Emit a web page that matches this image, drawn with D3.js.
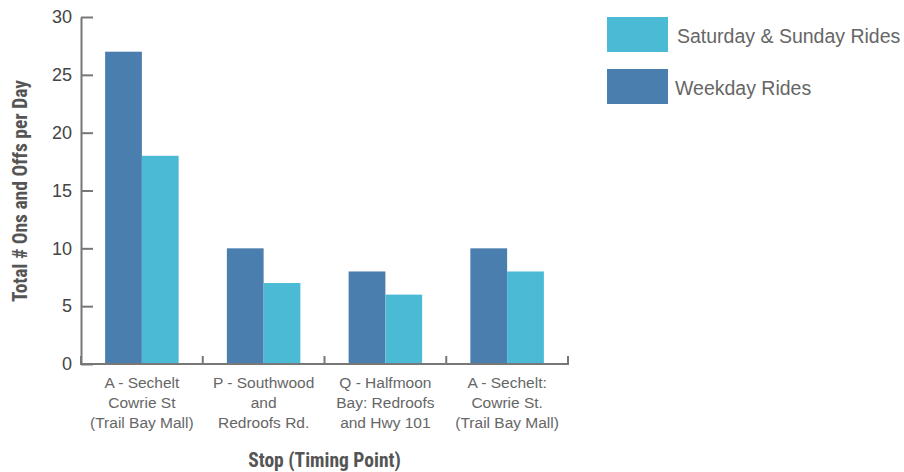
<!DOCTYPE html>
<html>
<head>
<meta charset="utf-8">
<script src="https://cdn.jsdelivr.net/npm/d3@7/dist/d3.min.js"></script>
<style>
  html, body { margin: 0; padding: 0; background: #fff; }
  svg { display: block; }
  text { font-family: "Helvetica Neue", "Liberation Sans", Arial, sans-serif; }
  .title { font-family: "Liberation Sans Narrow", "Roboto Condensed", "Liberation Sans", sans-serif; font-weight: bold; font-stretch: condensed; fill: #555; }
</style>
</head>
<body>
<svg id="chart" width="904" height="472"></svg>
<script>
// Stops (timing points), each label split into lines
const stops = [
  ["A - Sechelt", "Cowrie St", "(Trail Bay Mall)"],
  ["P - Southwood", "and", "Redroofs Rd."],
  ["Q - Halfmoon", "Bay: Redroofs", "and Hwy 101"],
  ["A - Sechelt:", "Cowrie St.", "(Trail Bay Mall)"]
];
const seriesNames = ["Weekday Rides", "Saturday & Sunday Rides"];
const weekday = [27, 10, 8, 10];
const weekend = [18, 7, 6, 8];
const yTicks = [0, 5, 10, 15, 20, 25, 30];
const colors = ["#4a7eae", "#4bbbd5"];

const svg = d3.select("#chart");
const plotLeft = 81, plotRight = 568, plotTop = 17, plotBottom = 364;

const x = d3.scaleBand().domain(d3.range(stops.length)).range([plotLeft, plotRight]);
const xi = d3.scaleBand().domain([0, 1]).range([0, x.bandwidth()]).paddingOuter(0.656);
const y = d3.scaleLinear().domain([0, 30]).range([plotBottom, plotTop]);

// Bars
const rows = stops.map((s, i) => [weekday[i], weekend[i]]);
const g = svg.append("g");
rows.forEach((vals, i) => {
  vals.forEach((v, k) => {
    g.append("rect")
      .attr("x", x(i) + xi(k))
      .attr("y", y(v))
      .attr("width", xi.bandwidth())
      .attr("height", y(0) - y(v))
      .attr("fill", colors[k]);
  });
});

const axisColor = "#777";

// Y axis with inward ticks
const yAxis = svg.append("g").attr("transform", `translate(${plotLeft},0)`)
  .call(d3.axisLeft(y).tickValues(yTicks).tickSizeInner(-12).tickSizeOuter(0).tickPadding(9));
yAxis.select(".domain").attr("stroke", axisColor).attr("stroke-width", 2);
yAxis.selectAll(".tick line").attr("stroke", axisColor).attr("stroke-width", 2);
yAxis.selectAll(".tick text").attr("fill", "#444").attr("font-size", 18)
  .attr("font-family", "Helvetica Neue, Liberation Sans, Arial, sans-serif");

// X axis: baseline and boundary ticks pointing up
const xAxis = svg.append("g");
xAxis.append("line").attr("x1", plotLeft).attr("x2", plotRight).attr("y1", plotBottom).attr("y2", plotBottom)
  .attr("stroke", axisColor).attr("stroke-width", 2);
d3.range(stops.length + 1).forEach(i => {
  const xp = i < stops.length ? x(i) : plotRight;
  xAxis.append("line").attr("x1", xp).attr("x2", xp).attr("y1", plotBottom + 1).attr("y2", plotBottom - 8)
    .attr("stroke", axisColor).attr("stroke-width", 2);
});

// Category labels
stops.forEach((lines, i) => {
  const t = svg.append("text")
    .attr("x", x(i) + x.bandwidth() / 2)
    .attr("y", 388)
    .attr("text-anchor", "middle")
    .attr("font-size", 15.5)
    .attr("fill", "#666");
  lines.forEach((ln, j) => {
    t.append("tspan").attr("x", x(i) + x.bandwidth() / 2).attr("y", 388 + j * 20).text(ln);
  });
});

// Axis titles
svg.append("text").attr("class", "title")
  .attr("x", (plotLeft + plotRight) / 2).attr("y", 467)
  .attr("text-anchor", "middle").attr("font-size", 19.5)
  .text("Stop (Timing Point)");
svg.append("text").attr("class", "title")
  .attr("transform", "translate(27,191) rotate(-90)")
  .attr("text-anchor", "middle").attr("font-size", 19.5)
  .text("Total # Ons and Offs per Day");

// Legend
const legendItems = [
  { name: seriesNames[1], color: colors[1], y: 17, tx: 677 },
  { name: seriesNames[0], color: colors[0], y: 69, tx: 675 }
];
legendItems.forEach(d => {
  svg.append("rect").attr("x", 607).attr("y", d.y).attr("width", 61).attr("height", 35).attr("fill", d.color);
  svg.append("text").attr("x", d.tx).attr("y", d.y + 26).attr("font-size", 19.5).attr("fill", "#666").text(d.name);
});
</script>
</body>
</html>
